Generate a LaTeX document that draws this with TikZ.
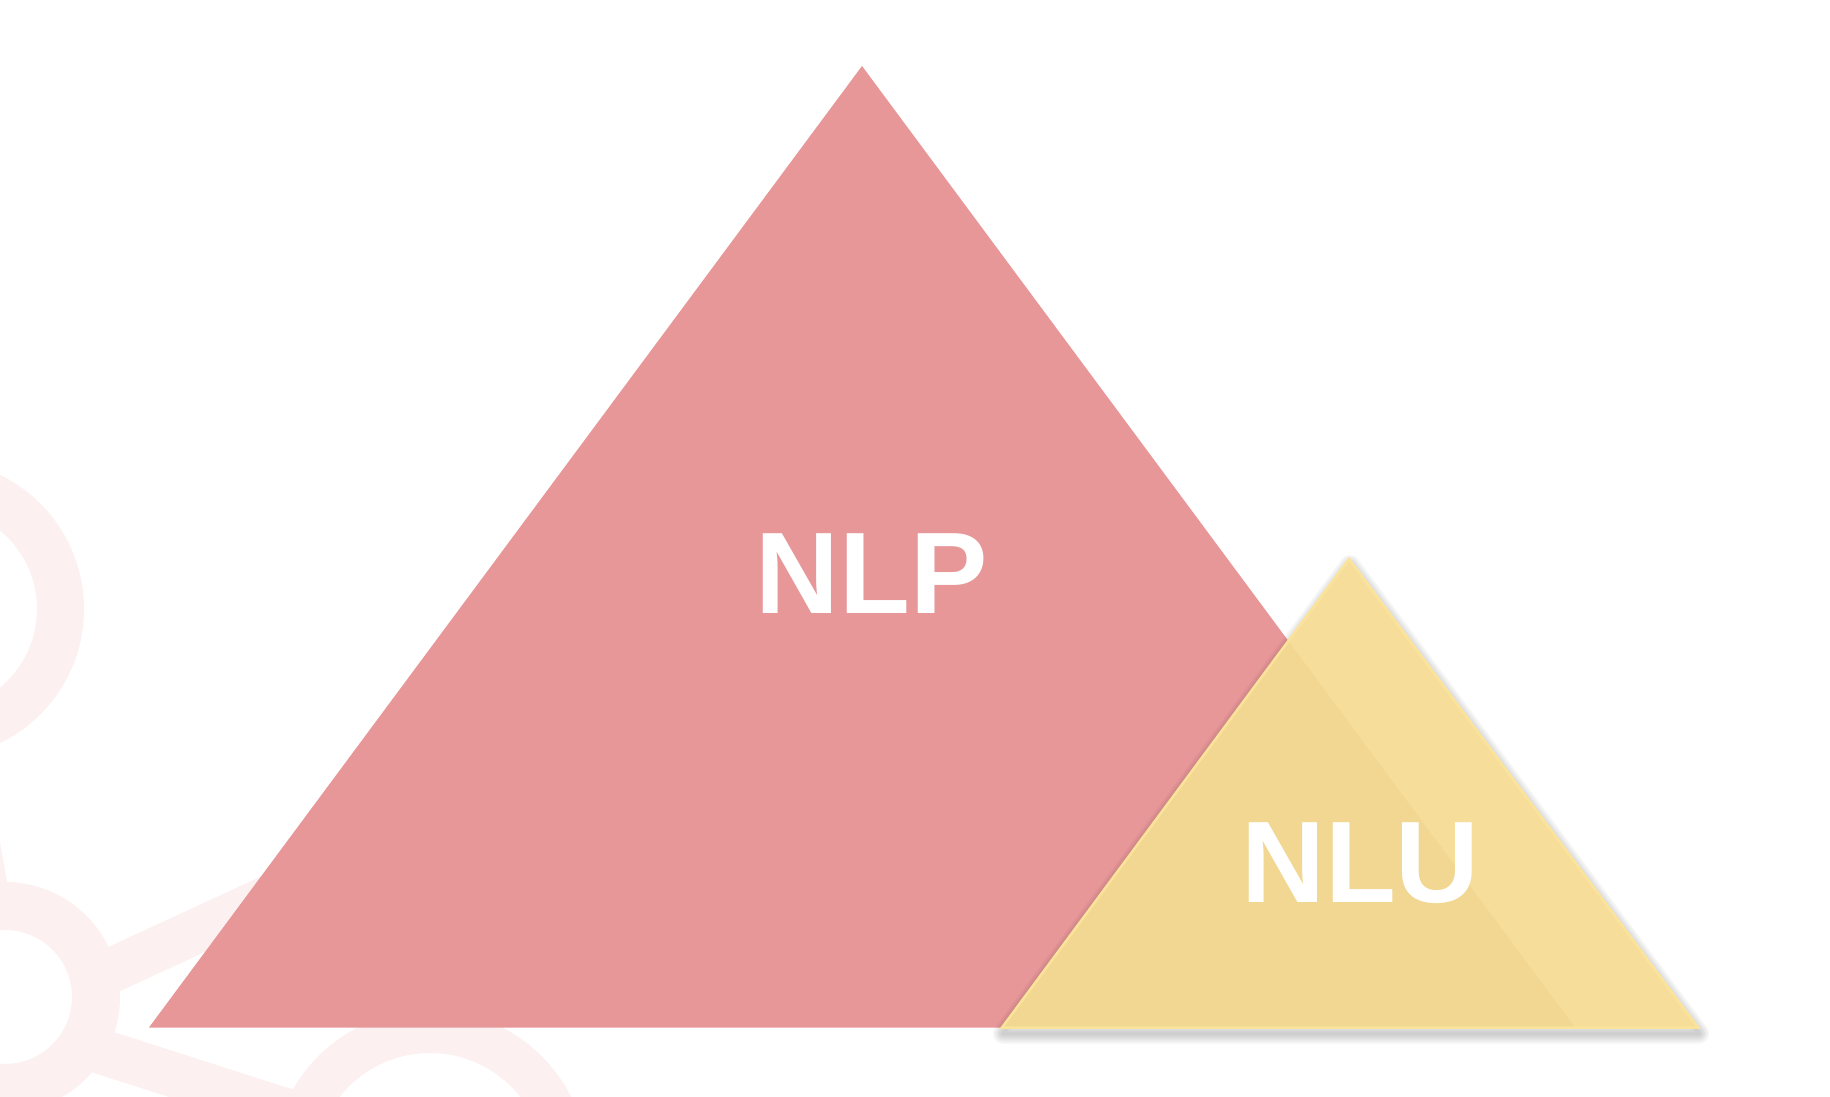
\documentclass[tikz,border=0pt]{standalone}
\usepackage{fontspec}
\setmainfont{Liberation Sans}
\definecolor{ringc}{RGB}{252,241,240}
\definecolor{nlpc}{RGB}{232,151,153}
\definecolor{nluc}{RGB}{246,222,154}
\definecolor{ovc}{RGB}{242,215,146}
\definecolor{nlub}{RGB}{251,228,154}
\begin{document}
\begin{tikzpicture}[x=1pt,y=-1pt,
  bond/.style={draw=ringc, line width=45pt},
  ring/.style={draw=ringc, fill=white},
  lbl/.style={text=white, inner sep=0pt, font=\bfseries\fontsize{116}{116}\selectfont}]
\fill[white] (0,0) rectangle (1830,1096);
\useasboundingbox (0,0) rectangle (1830,1096);
\clip (0,0) rectangle (1830,1096);
% background molecule
\coordinate (r1) at (-65,609);
\coordinate (r2) at (5,997);
\coordinate (r3) at (430,1168);
\coordinate (b2a) at (60,994);
\coordinate (b2b) at (420,828);
\coordinate (b3a) at (40,1032);
\coordinate (b3b) at (380,1141);
\draw[bond] (r1) -- (r2);
\draw[bond] (b2a) -- (b2b);
\draw[bond] (b3a) -- (b3b);
\draw[ring, line width=47pt] (r1) circle[radius=125.5];
\draw[ring, line width=48pt] (r2) circle[radius=91];
\draw[ring, line width=43pt] (r3) circle[radius=136.5];
% NLP triangle
\coordinate (pA) at (862,66);
\coordinate (pL) at (149,1027.5);
\coordinate (pR) at (1575,1027.5);
\fill[nlpc] (pA) -- (pL) -- (pR) -- cycle;
% NLU triangle
\coordinate (uA) at (1349,559);
\coordinate (uL) at (1002,1027.5);
\coordinate (uR) at (1698,1027.5);
\foreach \w in {4,8,12,16,20}
  \draw[line width=\w pt, draw=black, draw opacity=0.04, line join=round]
    ([xshift=1pt,yshift=-6pt]uA) -- ([xshift=1pt,yshift=-6pt]uL) -- ([xshift=1pt,yshift=-6pt]uR) -- cycle;
\fill[nluc] (uA) -- (uL) -- (uR) -- cycle;
\coordinate (ov) at (intersection of pA--pR and uA--uL);
\fill[ovc] (ov) -- (pR) -- (uL) -- cycle;
\draw[nlub, line width=2.5pt, line join=miter] (uA) -- (uL) -- (uR) -- cycle;
% labels
\node[lbl] (nlp) at (871.7,574) {NLP};
\node[lbl] (nlu) at (1360.5,863.5) {NLU};
\end{tikzpicture}
\end{document}
